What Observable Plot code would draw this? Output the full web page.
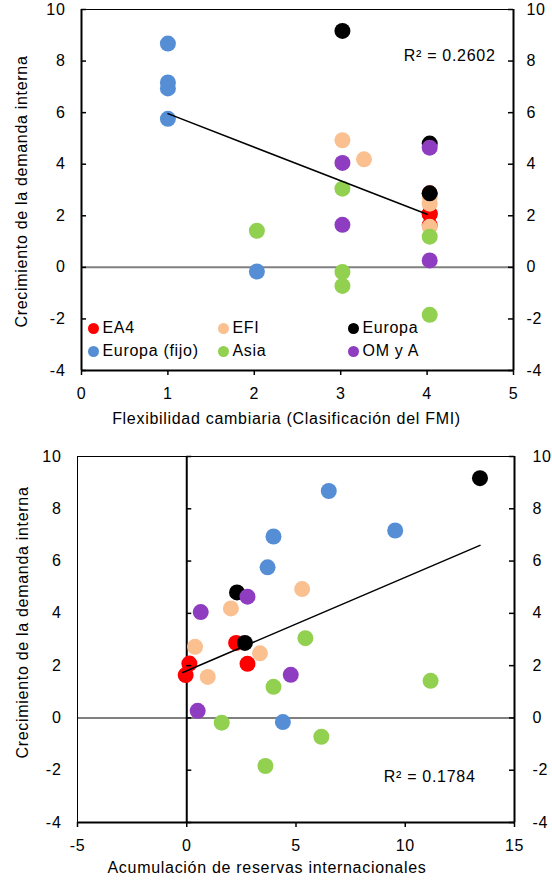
<!DOCTYPE html>
<html>
<head>
<meta charset="utf-8">
<script src="https://cdn.jsdelivr.net/npm/d3@7"></script>
<script src="https://cdn.jsdelivr.net/npm/@observablehq/plot@0.6"></script>
<style>
  body { margin: 0; background: white; }
  #wrap { position: relative; width: 552px; height: 880px; font-family: "Liberation Sans", Arial, sans-serif; }
  #wrap svg { display: block; }
  .leg { position: absolute; display: flex; align-items: center; height: 20px; font-size: 16px; letter-spacing: 0.7px; color: #000; white-space: nowrap; }
  .leg i { display: inline-block; width: 11px; height: 11px; border-radius: 50%; margin-right: 4px; }
</style>
</head>
<body>
<div id="wrap"></div>
<script>
// ---- data ----
const groups = ["EA4", "EFI", "Europa", "Europa (fijo)", "Asia", "OM y A"];
const groupColors = ["#FF0000", "#FAC090", "#000000", "#558ED5", "#92D050", "#8E3CC0"];

const pointGroup = [
  "EA4", "EA4", "EA4", "EA4",
  "EFI", "EFI", "EFI", "EFI", "EFI",
  "Europa", "Europa", "Europa",
  "Europa (fijo)", "Europa (fijo)", "Europa (fijo)", "Europa (fijo)", "Europa (fijo)",
  "Asia", "Asia", "Asia", "Asia", "Asia", "Asia",
  "OM y A", "OM y A", "OM y A", "OM y A"
];
const flexibilidad = [
  4.03, 4.03, 4.03, 4.03,
  3.02, 3.27, 4.03, 4.03, 4.03,
  3.02, 4.03, 4.03,
  1, 1, 1, 1, 2.03,
  3.02, 4.03, 2.03, 3.02, 3.02, 4.03,
  4.03, 3.02, 3.02, 4.03
];
const reservas = [
  2.26, 2.78, 0.12, -0.05,
  5.28, 2.02, 0.38, 3.35, 0.96,
  13.42, 2.3, 2.66,
  6.5, 9.54, 3.97, 3.7, 4.4,
  5.43, 3.97, 11.16, 1.6, 6.16, 3.6,
  2.78, 0.64, 4.76, 0.5
];
const demanda = [
  2.87, 2.07, 2.08, 1.64,
  4.93, 4.19, 2.72, 2.47, 1.57,
  9.17, 4.8, 2.87,
  8.68, 7.17, 6.94, 5.76, -0.16,
  3.05, 1.19, 1.42, -0.18, -0.72, -1.84,
  4.64, 4.05, 1.65, 0.27
];

const yTicks = [-4, -2, 0, 2, 4, 6, 8, 10];
const xTicksTop = [0, 1, 2, 3, 4, 5];
const xTicksBottom = [-5, 0, 5, 10, 15];

const trendTopX = [1, 4];
const trendTopY = [5.96, 2.06];
const trendBottomX = [-0.18, 13.42];
const trendBottomY = [1.74, 6.6];

const r2Top = "R² = 0.2602";
const r2Bottom = "R² = 0.1784";
const yTitle = "Crecimiento de la demanda interna";
const xTitleTop = "Flexibilidad cambiaria (Clasificación del FMI)";
const xTitleBottom = "Acumulación de reservas internacionales";

// ---- tables ----
const points = pointGroup.map((g, i) => ({group: g, flex: flexibilidad[i], res: reservas[i], dem: demanda[i]}));
const trendTop = trendTopX.map((x, i) => ({x, y: trendTopY[i]}));
const trendBottom = trendBottomX.map((x, i) => ({x, y: trendBottomY[i]}));

const style = {
  fontFamily: '"Liberation Sans", Arial, sans-serif',
  fontSize: "16px",
  letterSpacing: "0.7px",
  color: "#000",
  background: "white",
  overflow: "visible"
};
const fmt = d => String(d);

const chartTop = Plot.plot({
  width: 552, height: 440,
  marginLeft: 81, marginRight: 39, marginTop: 9, marginBottom: 70,
  x: {domain: [0, 5]},
  y: {domain: [-4, 10]},
  color: {domain: groups, range: groupColors},
  style,
  marks: [
    Plot.ruleY([0], {stroke: "#808080", strokeWidth: 2}),
    Plot.frame({stroke: "#000", strokeWidth: 1}),
    Plot.ruleX([0, 5], {stroke: "#000", strokeWidth: 2}),
    Plot.ruleY([-4], {stroke: "#000", strokeWidth: 2}),
    Plot.dot(points, {x: "flex", y: "dem", fill: "group", r: 8}),
    Plot.line(trendTop, {x: "x", y: "y", stroke: "#000", strokeWidth: 1.5}),
    Plot.ruleY(yTicks, {y: d => d, x1: 0, x2: 0, insetRight: -5, stroke: "#000", strokeWidth: 1.5}),
    Plot.ruleY(yTicks, {y: d => d, x1: 5, x2: 5, insetLeft: -5, stroke: "#000", strokeWidth: 1.5}),
    Plot.axisX({ticks: xTicksTop, tickSize: 5, tickPadding: 12, tickFormat: fmt, label: null, strokeWidth: 1.5}),
    Plot.axisY({anchor: "left", ticks: yTicks, tickSize: 0, tickPadding: 16, tickFormat: fmt, label: null}),
    Plot.axisY({anchor: "right", ticks: yTicks, tickSize: 0, tickPadding: 13, tickFormat: fmt, label: null}),
    Plot.text([r2Top], {text: d => d, frameAnchor: "top-right", textAnchor: "end", dx: -18, dy: 46, lineAnchor: "middle"}),
    Plot.text([yTitle], {text: d => d, frameAnchor: "left", textAnchor: "middle", lineAnchor: "middle", rotate: -90, dx: -60, dy: 1.5}),
    Plot.text([xTitleTop], {text: d => d, frameAnchor: "bottom", textAnchor: "middle", dx: -11, dy: 48, lineAnchor: "middle"})
  ]
});

const chartBottom = Plot.plot({
  width: 552, height: 440,
  marginLeft: 77, marginRight: 38, marginTop: 16, marginBottom: 58,
  x: {domain: [-5, 15]},
  y: {domain: [-4, 10]},
  color: {domain: groups, range: groupColors},
  style,
  marks: [
    Plot.ruleY([0], {stroke: "#808080", strokeWidth: 2}),
    Plot.frame({stroke: "#000", strokeWidth: 1}),
    Plot.ruleX([15], {stroke: "#000", strokeWidth: 2}),
    Plot.ruleY([-4], {stroke: "#000", strokeWidth: 2}),
    Plot.ruleX([0], {stroke: "#000", strokeWidth: 2}),
    Plot.dot(points, {x: "res", y: "dem", fill: "group", r: 8}),
    Plot.line(trendBottom, {x: "x", y: "y", stroke: "#000", strokeWidth: 1.5}),
    Plot.ruleY(yTicks, {y: d => d, x1: 0, x2: 0, insetRight: -5, stroke: "#000", strokeWidth: 1.5}),
    Plot.ruleY(yTicks, {y: d => d, x1: 15, x2: 15, insetLeft: -5, stroke: "#000", strokeWidth: 1.5}),
    Plot.axisX({ticks: xTicksBottom, tickSize: 5, tickPadding: 12.5, tickFormat: fmt, label: null, strokeWidth: 1.5}),
    Plot.axisY({anchor: "left", ticks: yTicks, tickSize: 0, tickPadding: 16, tickFormat: fmt, label: null}),
    Plot.axisY({anchor: "right", ticks: yTicks, tickSize: 0, tickPadding: 18, tickFormat: fmt, label: null}),
    Plot.text([r2Bottom], {text: d => d, frameAnchor: "bottom-right", textAnchor: "end", dx: -39, dy: -46, lineAnchor: "middle"}),
    Plot.text([yTitle], {text: d => d, frameAnchor: "left", textAnchor: "middle", lineAnchor: "middle", rotate: -90, dx: -55, dy: -17}),
    Plot.text([xTitleBottom], {text: d => d, frameAnchor: "bottom", textAnchor: "middle", dx: -29, dy: 45, lineAnchor: "middle"})
  ]
});

const wrap = document.getElementById("wrap");
wrap.appendChild(chartTop);
wrap.appendChild(chartBottom);

// legend inside the top chart
const legCols = [87.5, 217.5, 347.5];
const legRows = [318, 341];
groups.forEach((g, i) => {
  const d = document.createElement("div");
  d.className = "leg";
  d.style.left = legCols[i % 3] + "px";
  d.style.top = legRows[Math.floor(i / 3)] + "px";
  const m = document.createElement("i");
  m.style.background = groupColors[i];
  d.appendChild(m);
  d.appendChild(document.createTextNode(g));
  wrap.appendChild(d);
});
</script>
</body>
</html>
